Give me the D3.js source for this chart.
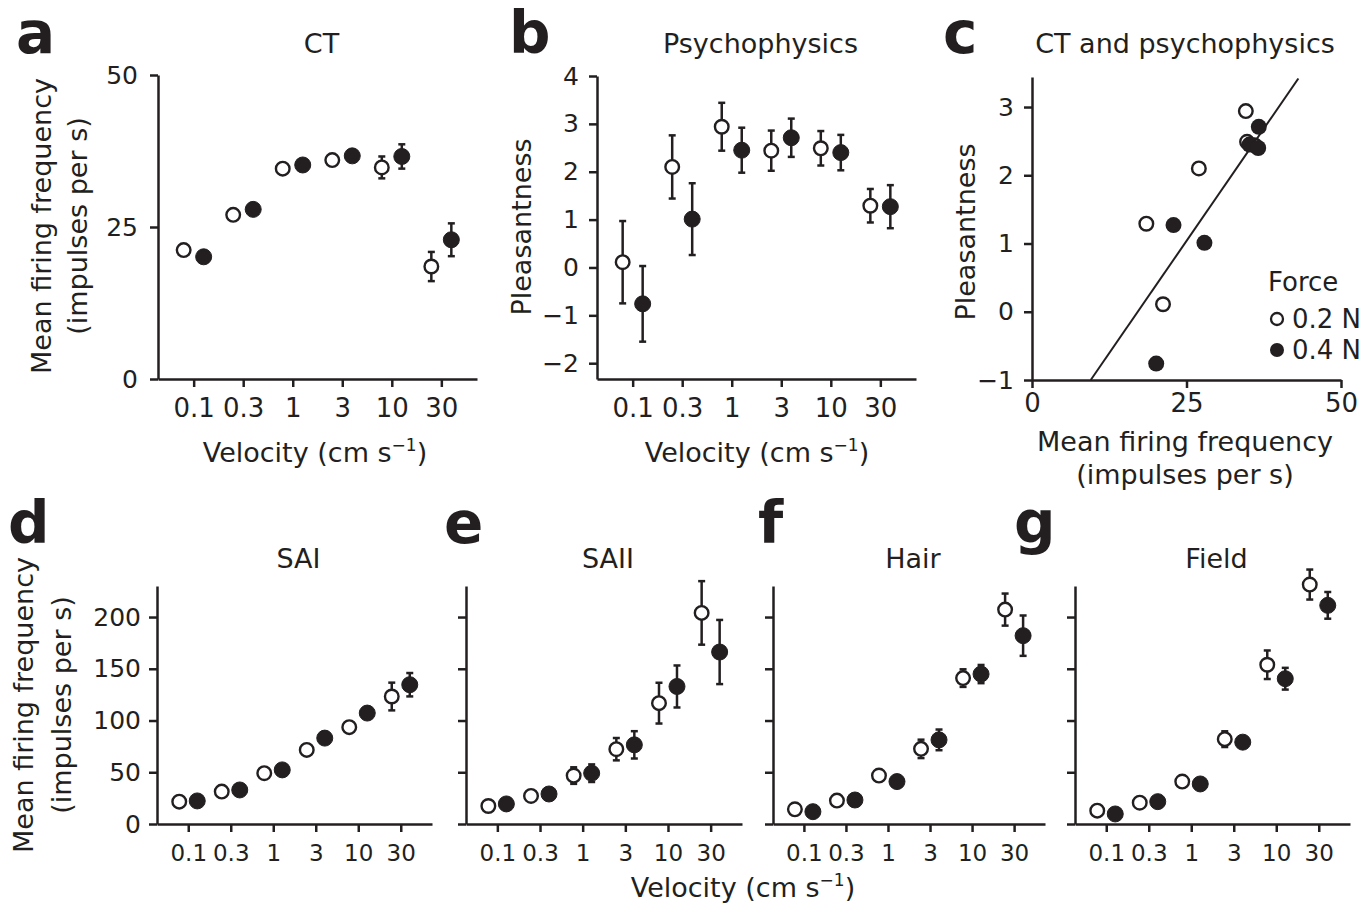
<!DOCTYPE html>
<html>
<head>
<meta charset="utf-8">
<script src="https://cdn.jsdelivr.net/npm/d3@7"></script>
<style>
  body { margin: 0; background: #fff; }
  svg text { font-family: "DejaVu Sans", sans-serif; fill: #231f20; }
</style>
</head>
<body>
<div id="chart"></div>
<script>
// velocities (cm/s) shown on every x axis
const velocities = ["0.1", "0.3", "1", "3", "10", "30"];

// a: CT firing (impulses per s), 0.2 N = open, 0.4 N = filled
const ctOpenMean   = [21.2, 27.0, 34.6, 36.0, 34.8, 18.5];
const ctOpenErr    = [0.6, 0.6, 0.8, 0.8, 1.8, 2.4];
const ctFilledMean = [20.1, 27.9, 35.2, 36.7, 36.6, 22.9];
const ctFilledErr  = [0.6, 0.7, 0.8, 0.9, 2.0, 2.7];

// b: pleasantness ratings
const psyOpenMean   = [0.11, 2.10, 2.94, 2.44, 2.49, 1.29];
const psyOpenErr    = [0.86, 0.66, 0.50, 0.42, 0.36, 0.35];
const psyFilledMean = [-0.76, 1.01, 2.45, 2.71, 2.40, 1.27];
const psyFilledErr  = [0.79, 0.75, 0.47, 0.40, 0.37, 0.45];

// c: regression line of pleasantness on CT firing
const fitSlope = 0.1315;
const fitIntercept = -2.25;
const fitXRange = [9.5, 43.1];

// d-g: other afferent types
const saiOpen    = [21.6, 31.3, 49.1, 71.6, 93.6, 123.2];
const saiOpenErr = [3, 3, 3, 4, 5, 13.4];
const saiFilled    = [22.3, 32.9, 52.3, 83.0, 107.2, 134.6];
const saiFilledErr = [3, 3, 3, 4, 5, 11.3];

const saiiOpen    = [17.4, 27.1, 46.8, 72.3, 116.8, 204.0];
const saiiOpenErr = [3, 3, 8, 10.8, 19.7, 30.7];
const saiiFilled    = [19.4, 29.0, 49.1, 76.5, 132.9, 166.2];
const saiiFilledErr = [3, 3, 8.5, 13.2, 20.3, 31];

const hairOpen    = [14.2, 22.6, 46.8, 72.6, 141.0, 207.2];
const hairOpenErr = [3, 3, 4, 8.9, 8.5, 15.5];
const hairFilled    = [11.9, 23.2, 41.0, 81.3, 144.9, 182.0];
const hairFilledErr = [3, 3, 5, 10, 8.8, 19.5];

const fieldOpen    = [12.9, 20.6, 41.0, 82.0, 153.9, 231.4];
const fieldOpenErr = [3, 3, 4, 7.6, 13.8, 14.5];
const fieldFilled    = [9.7, 21.6, 38.7, 79.1, 140.4, 211.3];
const fieldFilledErr = [3, 3, 4, 5, 10.5, 12.9];

const bottomTicks = [0, 50, 100, 150, 200];

const ink = "#231f20";
const intFmt = d3.format("d");
const svg = d3.select("#chart").append("svg")
    .attr("width", 1372)
    .attr("height", 917);

function styleAxis(g, fs) {
    g.select(".domain").attr("stroke", ink).attr("stroke-width", 2.5);
    g.selectAll(".tick line").attr("stroke", ink).attr("stroke-width", 2.5);
    g.selectAll(".tick text").attr("font-size", fs || 25).attr("fill", ink)
        .style("font-family", "'DejaVu Sans', sans-serif");
}

function drawPoints(g, x, y, means, errs, filled, dx) {
    const pts = means.map((m, i) => ({ v: velocities[i], m: m, e: errs[i] }));
    const eb = g.append("g");
    pts.forEach(d => {
        const cx = x(d.v) + dx;
        eb.append("line").attr("x1", cx).attr("x2", cx)
            .attr("y1", y(d.m - d.e)).attr("y2", y(d.m + d.e))
            .attr("stroke", ink).attr("stroke-width", 2.5);
        [d.m - d.e, d.m + d.e].forEach(v => {
            eb.append("line").attr("x1", cx - 3.5).attr("x2", cx + 3.5)
                .attr("y1", y(v)).attr("y2", y(v))
                .attr("stroke", ink).attr("stroke-width", 2.5);
        });
    });
    g.append("g").selectAll("circle")
        .data(pts)
        .enter()
        .append("circle")
        .attr("cx", d => x(d.v) + dx)
        .attr("cy", d => y(d.m))
        .attr("r", filled ? 8 : 6.8)
        .attr("fill", filled ? ink : "#fff")
        .attr("stroke", ink)
        .attr("stroke-width", filled ? 1 : 2.4);
}

function velocityPanel(opt) {
    const x = d3.scalePoint().domain(velocities).range(opt.xr).padding(opt.pad);
    const y = d3.scaleLinear().domain(opt.yd).range(opt.yr);
    const g = svg.append("g");
    const xa = g.append("g").attr("transform", `translate(0,${opt.yr[0]})`)
        .call(d3.axisBottom(x).tickSize(8).tickSizeOuter(0).tickPadding(opt.xPad));
    styleAxis(xa, opt.xFont);
    const yAxis = d3.axisLeft(y).tickValues(opt.ticks).tickSize(8).tickSizeOuter(0)
        .tickPadding(opt.yPad).tickFormat(intFmt);
    if (!opt.yLabels) yAxis.tickFormat("");
    const ya = g.append("g").attr("transform", `translate(${opt.xr[0]},0)`).call(yAxis);
    styleAxis(ya, 25);
    drawPoints(g, x, y, opt.open, opt.openErr, false, -opt.off);
    drawPoints(g, x, y, opt.filled, opt.filledErr, true, opt.off);
    g.append("text").attr("x", (opt.xr[0] + opt.xr[1]) / 2 + 4).attr("y", opt.titleY)
        .attr("text-anchor", "middle").attr("font-size", 27).text(opt.title);
    return g;
}

function velocityLabel(cx, y) {
    const t = svg.append("text").attr("x", cx).attr("y", y)
        .attr("text-anchor", "middle").attr("font-size", 27);
    t.append("tspan").text("Velocity (cm s");
    t.append("tspan").attr("dy", -11).attr("font-size", 17).text("\u22121");
    t.append("tspan").attr("dy", 11).text(")");
}

function rotLabel(x, y, txt) {
    svg.append("text").attr("transform", `translate(${x},${y}) rotate(-90)`)
        .attr("text-anchor", "middle").attr("font-size", 27).text(txt);
}

function panelLetter(x, y, s) {
    svg.append("text").attr("x", x).attr("y", y)
        .attr("font-size", 58).attr("font-weight", "bold").text(s);
}

// ---- a: CT ----
velocityPanel({
    xr: [158, 477], pad: 0.72, yd: [0, 50], yr: [379, 75], ticks: [0, 25, 50], yLabels: true,
    open: ctOpenMean, openErr: ctOpenErr, filled: ctFilledMean, filledErr: ctFilledErr,
    off: 10, title: "CT", titleY: 53, xPad: 12, xFont: 26, yPad: 12
});
velocityLabel(315, 462);
rotLabel(51, 226, "Mean firing frequency");
rotLabel(87, 226, "(impulses per s)");
panelLetter(16, 53, "a");

// ---- b: Psychophysics ----
velocityPanel({
    xr: [597, 916], pad: 0.72, yd: [-2.33, 4], yr: [379, 76], ticks: [-2, -1, 0, 1, 2, 3, 4], yLabels: true,
    open: psyOpenMean, openErr: psyOpenErr, filled: psyFilledMean, filledErr: psyFilledErr,
    off: 10, title: "Psychophysics", titleY: 53, xPad: 12, xFont: 26, yPad: 10
});
velocityLabel(757, 462);
rotLabel(531, 227, "Pleasantness");
panelLetter(509, 53, "b");

// ---- c: CT and psychophysics ----
(function() {
    const x = d3.scaleLinear().domain([0, 50]).range([1032, 1341]);
    const y = d3.scaleLinear().domain([-1, 3.44]).range([380, 77]);
    const g = svg.append("g");
    const xa = g.append("g").attr("transform", "translate(0,380)")
        .call(d3.axisBottom(x).tickValues([0, 25, 50]).tickSize(8).tickSizeOuter(0).tickPadding(6).tickFormat(intFmt));
    styleAxis(xa, 26);
    const ya = g.append("g").attr("transform", "translate(1032,0)")
        .call(d3.axisLeft(y).tickValues([-1, 0, 1, 2, 3]).tickSize(8).tickSizeOuter(0).tickPadding(10).tickFormat(intFmt));
    styleAxis(ya, 25);

    g.append("line")
        .attr("x1", x(fitXRange[0])).attr("y1", y(fitIntercept + fitSlope * fitXRange[0]))
        .attr("x2", x(fitXRange[1])).attr("y2", y(fitIntercept + fitSlope * fitXRange[1]))
        .attr("stroke", ink).attr("stroke-width", 2);

    const openPts = ctOpenMean.map((m, i) => [m, psyOpenMean[i]]);
    const filledPts = ctFilledMean.map((m, i) => [m, psyFilledMean[i]]);
    g.append("g").selectAll("circle").data(openPts).enter().append("circle")
        .attr("cx", d => x(d[0])).attr("cy", d => y(d[1])).attr("r", 6.8)
        .attr("fill", "#fff").attr("stroke", ink).attr("stroke-width", 2.4);
    g.append("g").selectAll("circle").data(filledPts).enter().append("circle")
        .attr("cx", d => x(d[0])).attr("cy", d => y(d[1])).attr("r", 8)
        .attr("fill", ink);

    g.append("text").attr("x", 1185).attr("y", 53).attr("text-anchor", "middle")
        .attr("font-size", 27).text("CT and psychophysics");
    g.append("text").attr("x", 1185).attr("y", 451).attr("text-anchor", "middle")
        .attr("font-size", 27).text("Mean firing frequency");
    g.append("text").attr("x", 1185).attr("y", 484).attr("text-anchor", "middle")
        .attr("font-size", 27).text("(impulses per s)");

    // legend
    g.append("text").attr("x", 1268).attr("y", 291).attr("font-size", 26).text("Force");
    g.append("circle").attr("cx", 1277).attr("cy", 319).attr("r", 6)
        .attr("fill", "#fff").attr("stroke", ink).attr("stroke-width", 2.3);
    g.append("text").attr("x", 1292).attr("y", 328).attr("font-size", 26).text("0.2 N");
    g.append("circle").attr("cx", 1277).attr("cy", 350).attr("r", 7).attr("fill", ink);
    g.append("text").attr("x", 1292).attr("y", 359).attr("font-size", 26).text("0.4 N");
})();
rotLabel(975, 232, "Pleasantness");
panelLetter(943, 53, "c");

// ---- d-g: bottom row ----
const bottomPanels = [
    { xr: [157, 432], title: "SAI", open: saiOpen, openErr: saiOpenErr, filled: saiFilled, filledErr: saiFilledErr, yLabels: true },
    { xr: [466, 742], title: "SAII", open: saiiOpen, openErr: saiiOpenErr, filled: saiiFilled, filledErr: saiiFilledErr, yLabels: false },
    { xr: [773, 1045], title: "Hair", open: hairOpen, openErr: hairOpenErr, filled: hairFilled, filledErr: hairFilledErr, yLabels: false },
    { xr: [1075, 1350], title: "Field", open: fieldOpen, openErr: fieldOpenErr, filled: fieldFilled, filledErr: fieldFilledErr, yLabels: false }
];
bottomPanels.forEach(p => {
    velocityPanel(Object.assign({
        pad: 0.735, yd: [0, 230], yr: [824, 586], ticks: bottomTicks, off: 9, titleY: 568,
        xPad: 13, xFont: 23, yPad: 8
    }, p));
});
velocityLabel(743, 897);
rotLabel(33, 705, "Mean firing frequency");
rotLabel(71, 705, "(impulses per s)");
panelLetter(8, 543, "d");
panelLetter(444, 543, "e");
panelLetter(758, 543, "f");
panelLetter(1014, 543, "g");
</script>
</body>
</html>
